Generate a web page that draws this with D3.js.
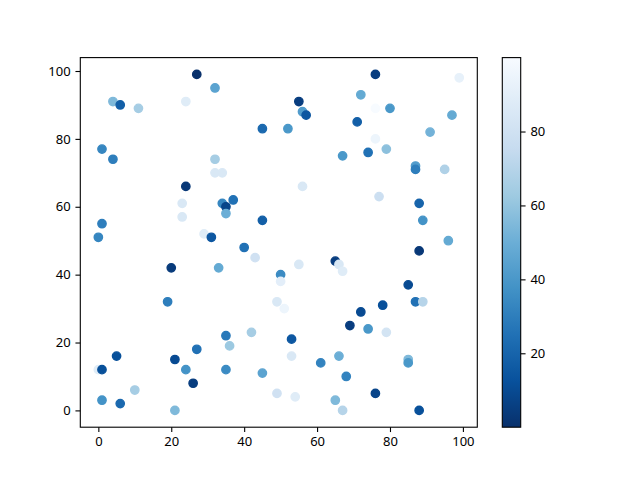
<!DOCTYPE html>
<html>
<head>
<meta charset="utf-8">
<script src="https://cdn.jsdelivr.net/npm/d3@7"></script>
<style>
  html, body { margin: 0; padding: 0; background: #fff; }
  svg text { font-family: "Noto Sans", "DejaVu Sans", sans-serif; font-size: 13px; fill: #000; }
</style>
</head>
<body>
<svg id="chart" width="640" height="480"></svg>
<script>
// Data
const xs = [27,32,4,6,11,24,45,1,4,32,32,34,24,23,23,34,37,35,35,1,45,0,29,31,
  76,99,72,55,56,57,76,80,97,52,71,91,76,67,74,79,87,87,95,56,77,88,89,96,
  40,43,20,33,50,50,19,49,51,35,36,42,27,5,21,0,1,24,35,45,26,10,1,6,21,49,
  88,65,66,67,55,85,78,87,89,72,69,74,79,53,53,66,61,85,85,68,54,76,65,67,88];
const ys = [99,95,91,90,89,91,83,77,74,74,70,70,66,61,57,61,62,60,58,55,56,51,52,51,
  99,98,93,91,88,87,89,89,87,83,85,82,80,75,76,77,72,71,71,66,63,61,56,50,
  48,45,42,42,40,38,32,32,30,22,19,23,18,16,15,12,12,12,12,11,8,6,3,2,0,5,
  47,44,43,41,43,37,31,32,32,29,25,24,23,21,16,16,14,15,14,10,4,5,3,0,0];
const cs = [0,45,55,18,65,88,22,33,30,65,85,85,3,85,85,33,25,8,50,30,18,33,88,15,
  5,92,48,5,42,15,100,40,48,40,18,52,95,40,25,58,42,30,68,85,78,20,38,48,
  25,80,4,48,35,90,30,85,95,28,62,65,25,12,10,88,12,38,35,45,5,65,38,22,55,80,
  3,5,85,88,85,10,12,25,70,10,5,40,82,15,85,50,32,55,40,32,88,8,55,70,12];

const xTicks = [0,20,40,60,80,100];
const yTicks = [0,20,40,60,80,100];
const cTicks = [20,40,60,80];

// matplotlib Blues, reversed
const blues = ["#f7fbff","#deebf7","#c6dbef","#9ecae1","#6baed6","#4292c6","#2171b5","#08519c","#08306b"];

const svg = d3.select("#chart");
svg.append("rect").attr("width",640).attr("height",480).attr("fill","#fff");

// Layout
const ax = { left: 80.3, right: 477.3, top: 57.6, bottom: 427.2 };
const cb = { left: 502.3, right: 520.7, top: 57.6, bottom: 427.2 };
const tickLen = 4.86, tickPad = 4.86;

const pts = xs.map((x,i) => ({ x, y: ys[i], c: cs[i] }));

function padded([lo, hi]) { const m = (hi - lo) * 0.05; return [lo - m, hi + m]; }

const x = d3.scaleLinear().domain(padded(d3.extent(xs))).range([ax.left, ax.right]);
const y = d3.scaleLinear().domain(padded(d3.extent(ys))).range([ax.bottom, ax.top]);

const cExt = d3.extent(cs);
const stops = blues.map((_, i) => cExt[0] + (cExt[1] - cExt[0]) * i / (blues.length - 1));
const color = d3.scaleLinear().domain(stops).range(blues.slice().reverse()).interpolate(d3.interpolateRgb);

// Points
const plot = svg.append("g");
plot.selectAll("circle").data(pts).join("circle")
  .attr("cx", d => x(d.x)).attr("cy", d => y(d.y))
  .attr("r", 4.17)
  .attr("fill", d => color(d.c))
  .attr("stroke", d => color(d.c)).attr("stroke-width", 1.39);

// Axes
function styleAxis(g) {
  g.select(".domain").remove();
  g.selectAll(".tick line").attr("stroke","#000").attr("stroke-width",1.1);
  g.selectAll(".tick text").attr("fill","#000").style("font-size","13px");
}
svg.append("g").attr("transform",`translate(0,${ax.bottom})`)
  .call(d3.axisBottom(x).tickValues(xTicks).tickSize(tickLen).tickPadding(tickPad).tickFormat(d3.format("d")))
  .call(styleAxis);
svg.append("g").attr("transform",`translate(${ax.left},0)`)
  .call(d3.axisLeft(y).tickValues(yTicks).tickSize(tickLen).tickPadding(tickPad).tickFormat(d3.format("d")))
  .call(styleAxis);

svg.append("rect")
  .attr("x", ax.left).attr("y", ax.top)
  .attr("width", ax.right - ax.left).attr("height", ax.bottom - ax.top)
  .attr("fill","none").attr("stroke","#000").attr("stroke-width",1.1);

// Colorbar
const defs = svg.append("defs");
const grad = defs.append("linearGradient").attr("id","cbar")
  .attr("x1","0").attr("y1","1").attr("x2","0").attr("y2","0");
stops.forEach((s, i) => {
  grad.append("stop")
    .attr("offset", i / (stops.length - 1))
    .attr("stop-color", color(s));
});
svg.append("rect")
  .attr("x", cb.left).attr("y", cb.top)
  .attr("width", cb.right - cb.left).attr("height", cb.bottom - cb.top)
  .attr("fill","url(#cbar)");

const cScale = d3.scaleLinear().domain(cExt).range([cb.bottom, cb.top]);
svg.append("g").attr("transform",`translate(${cb.right},0)`)
  .call(d3.axisRight(cScale).tickValues(cTicks).tickSize(tickLen).tickPadding(tickPad).tickFormat(d3.format("d")))
  .call(styleAxis);

svg.append("rect")
  .attr("x", cb.left).attr("y", cb.top)
  .attr("width", cb.right - cb.left).attr("height", cb.bottom - cb.top)
  .attr("fill","none").attr("stroke","#000").attr("stroke-width",1.1);
</script>
</body>
</html>
